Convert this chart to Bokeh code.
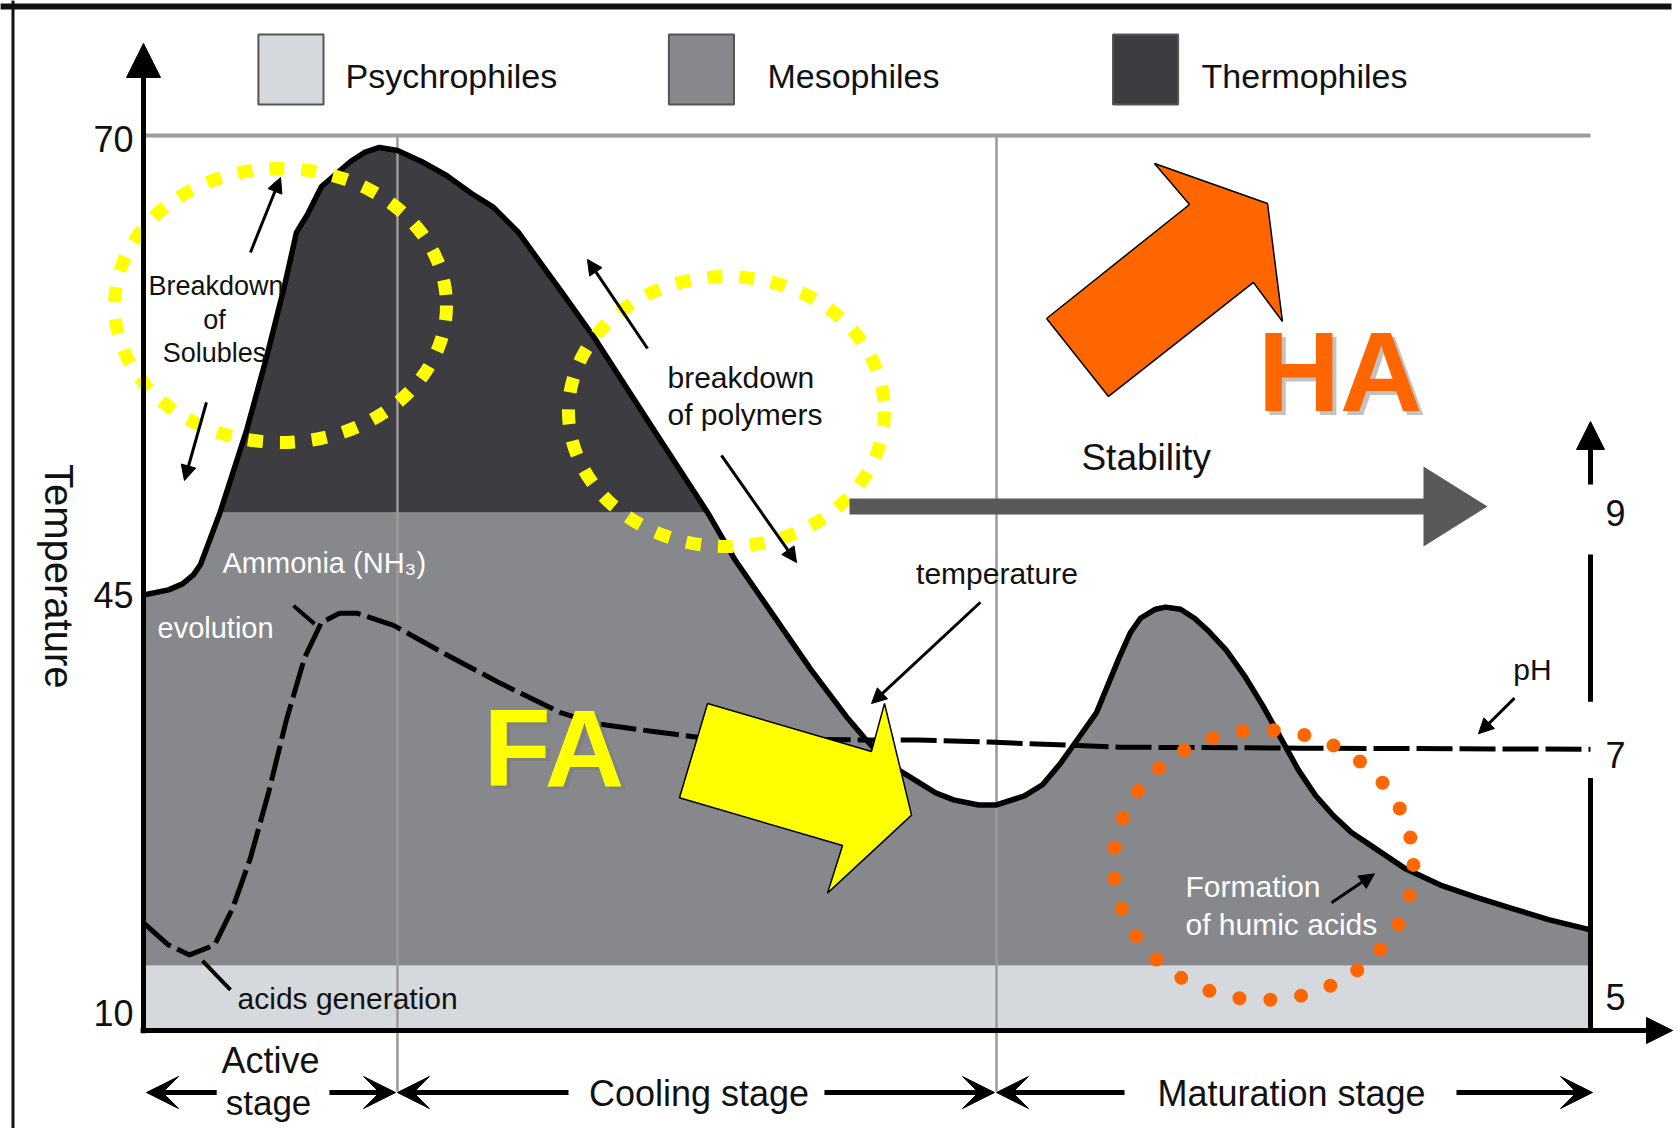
import numpy as np
from bokeh.plotting import figure
from bokeh.models import Range1d, Label, Arrow, NormalHead, VeeHead
from bokeh.embed import file_html
from bokeh.resources import INLINE

# ---------------- data (relative time 0-100, relative temperature 0-100) ----------------
legend_labels = ["Psychrophiles", "Mesophiles", "Thermophiles"]
legend_colors = ["#d5d8dc", "#86888c", "#3c3c41"]

time = [0, 1.73, 2.70, 3.46, 3.94, 5.29, 7.15, 8.5, 9.74, 10.57, 11.33, 12.3, 14.31,
        15.27, 16.31, 17.55, 19.21, 20.94, 22.67, 24.19, 25.92, 27.16, 28.82, 31.1,
        35.25, 38.98, 40.91, 46.1, 48.58, 49.83, 51.0, 52.25, 53.49, 54.73, 55.98,
        57.71, 58.95, 60.88, 62.13, 63.37, 64.62, 65.86, 67.45, 68.21, 68.9, 69.94,
        70.63, 71.67, 72.63, 73.6, 74.84, 76.09, 77.33, 78.58, 79.82, 81.0, 82.24,
        83.48, 84.73, 87.22, 89.63, 92.12, 94.61, 97.1, 100]
temperature = [48.66, 49.23, 49.9, 50.93, 52.06, 57.88, 67.2, 75.2, 83.16, 89.16,
               91.17, 94.3, 97.09, 98.1, 98.66, 98.32, 97.09, 95.53, 93.52, 91.96,
               89.16, 86.37, 82.68, 77.54, 67.15, 57.88, 52.51, 40.38, 35.06, 32.68,
               30.64, 29.05, 27.8, 26.56, 25.77, 25.2, 25.2, 26.21, 27.46, 29.84,
               32.68, 35.52, 41.74, 44.47, 46.06, 47.07, 47.3, 47.07, 46.06, 44.63,
               42.47, 39.63, 36.35, 32.73, 29.09, 26.26, 23.99, 22.13, 20.77, 18.06,
               16.25, 14.88, 13.63, 12.39, 11.25]

time_ph = [0, 1.73, 3.18, 4.91, 6.15, 7.39, 8.64, 9.88, 11.13, 12.3, 13.55, 14.79,
           17.28, 20.94, 24.67, 28.82, 31.31, 34.97, 38.7, 49.83, 53.49, 58.47,
           67.45, 79.96, 100]
ph = [5.612, 5.428, 5.346, 5.428, 5.729, 6.148, 6.688, 7.292, 7.804, 8.098, 8.173,
      8.173, 8.073, 7.83, 7.593, 7.351, 7.259, 7.199, 7.141, 7.124, 7.124, 7.107,
      7.065, 7.057, 7.048]

thermo_level = 57.88
psychro_level = 7.27
temp_tick_pos = [99.55, 48.67, 1.91]
temp_tick_labels = ["70", "45", "10"]
ph_ticks = [9, 7, 5]
stage_bounds = [17.55, 58.95]

FONT = "Liberation Sans"

p = figure(width=1679, height=1128,
           x_range=Range1d(-9.883, 106.151), y_range=Range1d(-10.95, 115.08),
           x_axis_type=None, y_axis_type=None,
           output_backend="svg", toolbar_location=None, min_border=0)
p.extra_y_ranges = {"ph": Range1d(3.9097, 13.2435)}
p.grid.visible = False
p.outline_line_color = None
p.background_fill_color = "white"
p.border_fill_color = "white"
p.min_border_left = p.min_border_right = p.min_border_top = p.min_border_bottom = 0

t = np.array(time)
T = np.array(temperature)

# frame lines (picture border)
p.line([-9.9, 105.6], [114.41, 114.41], line_color="#111111", line_width=6)
p.line([-9.02, -9.02], [-11.0, 115.1], line_color="#111111", line_width=3)

# bands
p.varea(x=[0, 100], y1=[0, 0], y2=[psychro_level, psychro_level], fill_color=legend_colors[0])
p.varea(x=t, y1=psychro_level, y2=np.minimum(T, thermo_level), fill_color=legend_colors[1])
p.varea(x=t, y1=thermo_level, y2=np.maximum(T, thermo_level), fill_color=legend_colors[2])

# gray guide lines
for b in stage_bounds:
    p.line([b, b], [100, -6.82], line_color="#9a9a9a", line_width=2.5)
p.line([0, 100], [100, 100], line_color="#9c9c9c", line_width=4)

# temperature curve & pH curve
p.line(t, T, line_color="black", line_width=5.5, line_join="round")
p.line(time_ph, ph, y_range_name="ph", line_color="black", line_width=5, line_dash="36 7")
p.line([10.37, 11.82], [47.45, 45.43], line_color="black", line_width=4)
p.line([4.08, 6.01], [7.78, 4.55], line_color="black", line_width=4)

# legend
leg_x = [10.19, 38.56, 69.25]
leg_tx = [13.96, 43.12, 73.12]
for lx, tx, lab_, col in zip(leg_x, leg_tx, legend_labels, legend_colors):
    p.rect(x=[lx], y=[107.37], width=4.5, height=7.82, fill_color=col,
           line_color="#555555", line_width=2)
    p.add_layout(Label(x=tx, y=106.59, text=lab_, text_font=FONT, text_font_size="34px",
                       text_color="#111111", text_align="left", text_baseline="middle"))

# dotted highlight ellipses
p.ellipse(x=[9.47], y=[81.01], width=22.94, height=30.61, fill_color=None,
          line_color="#ffff00", line_width=13, line_dash="15 17")
p.ellipse(x=[40.29], y=[69.16], width=21.84, height=30.17, fill_color=None,
          line_color="#ffff00", line_width=13, line_dash="15 17")

# Stability arrow
p.line([48.79, 88.6], [58.55, 58.55], line_color="#58595b", line_width=16)
p.patch([88.46, 92.88, 88.46], [63.02, 58.55, 54.08], fill_color="#58595b", line_color=None)

# FA / HA block arrows
p.patch([38.98, 50.31, 51.21, 53.08, 47.27, 48.31, 37.04],
        [36.53, 31.18, 36.53, 24.06, 15.35, 20.66, 26.0],
        fill_color="#ffff00", line_color="black", line_width=1.5)
p.patch([69.87, 77.68, 78.71, 76.71, 66.69, 62.41, 72.29],
        [96.87, 92.4, 79.22, 83.58, 70.84, 79.55, 92.29],
        fill_color="#ff6600", line_color="black", line_width=1.5)

# orange dotted circle
p.ellipse(x=[77.4], y=[18.5], width=20.73, height=30.17, fill_color=None,
          line_color="#ff6600", line_width=14, line_dash="0 31", line_cap="round")

# axes
p.add_layout(Arrow(x_start=0, y_start=-0.3, x_end=0, y_end=110.28, line_width=5,
                   end=NormalHead(size=34, fill_color="black", line_color="black")))
p.add_layout(Arrow(x_start=-0.2, y_start=0, x_end=105.67, y_end=0, line_width=5,
                   end=NormalHead(size=26, fill_color="black", line_color="black")))
# pH axis
p.add_layout(Arrow(x_start=100, y_start=61.01, x_end=100, y_end=68.04, line_width=5,
                   end=NormalHead(size=28, fill_color="black", line_color="black")))
p.line([100, 100], [53.18, 36.73], line_color="black", line_width=5)
p.line([100, 100], [28.22, 0], line_color="black", line_width=5)

# small annotation arrows
small = [(7.39, 86.93, 9.47, 95.31), (4.35, 70.17, 2.83, 61.45),
         (34.83, 76.2, 30.68, 86.15), (39.94, 64.25, 45.13, 52.29),
         (57.84, 47.85, 50.31, 36.53), (94.75, 37.13, 92.26, 33.16),
         (82.1, 14.26, 85.07, 17.5)]
for x0, y0, x1, y1 in small:
    p.add_layout(Arrow(x_start=x0, y_start=y0, x_end=x1, y_end=y1, line_width=3,
                       end=NormalHead(size=15, fill_color="black", line_color="black")))

# stage arrows
stage_arrows = [(5.06, 0.21), (12.85, 17.42), (29.37, 17.55), (47.06, 58.81),
                (67.8, 58.95), (90.74, 100.14)]
for xs, xe in stage_arrows:
    p.add_layout(Arrow(x_start=xs, y_start=-6.93, x_end=xe, y_end=-6.93, line_width=5,
                       end=VeeHead(size=32, fill_color="black", line_color="black")))

def lab(x, y, text, size, color="#111111", align="left", angle=0, style="normal",
        y_range_name="default", alpha=1.0):
    p.add_layout(Label(x=x, y=y, text=text, text_font=FONT, text_font_size=size,
                       text_color=color, text_align=align, text_baseline="middle",
                       angle=angle, text_font_style=style, y_range_name=y_range_name,
                       text_alpha=alpha))

# tick labels
for pos, txt in zip(temp_tick_pos, temp_tick_labels):
    lab(-0.69, pos, txt, "36px", align="right")
for v in ph_ticks:
    lab(101.73, v, str(v), "36px", align="center", y_range_name="ph")
lab(-5.81, 50.76, "Temperature", "40px", align="center", angle=-np.pi / 2)

# annotation texts
lab(5.01, 83.13, "Breakdown", "27px", align="center")
lab(4.91, 79.33, "of", "27px", align="center")
lab(4.91, 75.75, "Solubles", "27px", align="center")
lab(36.21, 72.96, "breakdown", "30px")
lab(36.21, 68.83, "of polymers", "30px")
lab(58.98, 51.1, "temperature", "30px", align="center")
lab(95.99, 40.37, "pH", "30px", align="center")
lab(5.46, 52.18, "Ammonia (NH\u2083)", "29px", color="white")
lab(0.97, 44.92, "evolution", "29px", color="white")
lab(6.5, 3.53, "acids generation", "30px")
lab(72.01, 16.08, "Formation", "30px", color="white")
lab(72.01, 11.83, "of humic acids", "30px", color="white")
lab(64.82, 64.02, "Stability", "37px")

# FA / HA big labels with soft shadow
lab(23.78, 31.28, "FA", "110px", color="#777777", style="bold", alpha=0.45)
lab(23.5, 31.66, "FA", "110px", color="#ffff00", style="bold")
lab(77.28, 73.2, "HA", "114px", color="#777777", style="bold", alpha=0.45)
lab(77.0, 73.58, "HA", "114px", color="#ff6600", style="bold")

# stage labels
lab(8.78, -3.4, "Active", "36px", align="center")
lab(8.64, -8.0, "stage", "35px", align="center")
lab(38.39, -6.99, "Cooling stage", "36px", align="center")
lab(79.34, -6.99, "Maturation stage", "36px", align="center")

open("out.html", "w").write(file_html(p, INLINE))
